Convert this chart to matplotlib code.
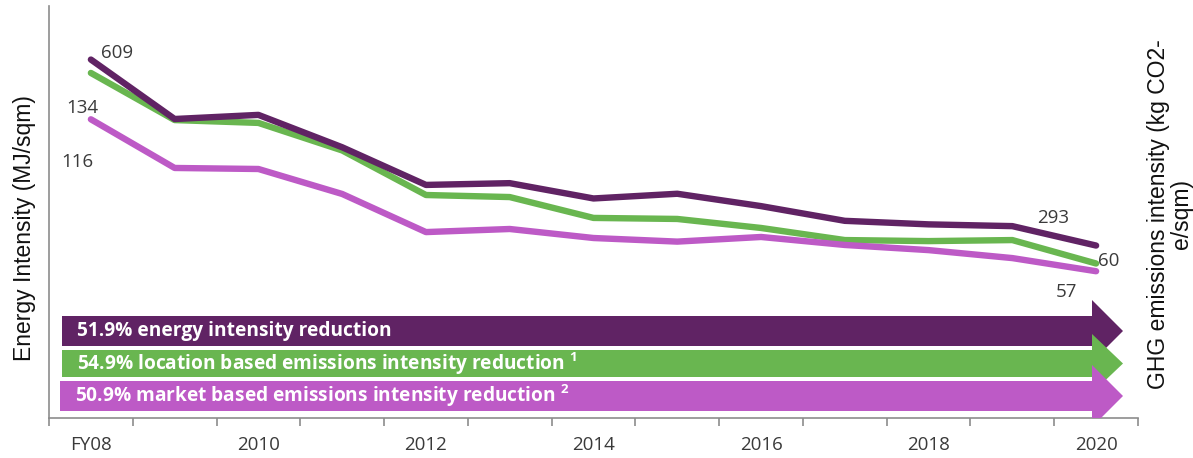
import matplotlib
matplotlib.use("Agg")
import matplotlib.pyplot as plt
from matplotlib.patches import FancyArrow

# ---- data ---------------------------------------------------------------
years = [2008, 2009, 2010, 2011, 2012, 2013, 2014, 2015, 2016, 2017, 2018, 2019, 2020]
year_labels = ["FY08", "2010", "2012", "2014", "2016", "2018", "2020"]
label_years = [2008, 2010, 2012, 2014, 2016, 2018, 2020]

energy_intensity = [609, 508, 515, 460, 396, 399, 373, 381, 360, 335, 329, 326, 293]
location_emissions = [134, 115.7, 114.6, 103.9, 86.6, 85.8, 77.7, 77.3, 73.8, 69.1, 68.7, 69.1, 60]
market_emissions = [116, 97.1, 96.7, 87.0, 72.2, 73.4, 69.9, 68.5, 70.3, 67.2, 65.2, 62.1, 57]

arrow_texts = [
    "51.9% energy intensity reduction",
    "54.9% location based emissions intensity reduction $^{\\mathbf{1}}$",
    "50.9% market based emissions intensity reduction $^{\\mathbf{2}}$",
]

# ---- style ----------------------------------------------------------------
PURPLE = "#602364"
GREEN = "#69B650"
PINK = "#BD5AC6"
GREY = "#8C8C8C"
TEXT = "#3A3A3A"
BODY_FONT = ["Open Sans", "DejaVu Sans"]
AXIS_FONT = ["Liberation Sans", "DejaVu Sans"]

plt.rcParams["font.family"] = BODY_FONT
plt.rcParams["mathtext.fontset"] = "custom"
plt.rcParams["mathtext.bf"] = "Open Sans:bold"

fig = plt.figure(figsize=(11.93, 4.58), dpi=100)
ax = fig.add_axes([49 / 1193, 40 / 458, 1089 / 1193, 412 / 458])
ax2 = ax.twinx()

# emissions lines go on the secondary axis, drawn beneath the energy line
line_kw = dict(lw=4.6, solid_capstyle="round", solid_joinstyle="round")
ax2.plot(years, location_emissions, color=GREEN, **line_kw)
ax2.plot(years, market_emissions, color=PINK, **line_kw)
ax.plot(years, energy_intensity, color=PURPLE, **line_kw)
ax.set_zorder(ax2.get_zorder() + 1)
ax.patch.set_visible(False)

ax.set_xlim(2007.5, 2020.5)
ax.set_ylim(0, 700)
ax2.set_ylim(0, 160)

# value labels
lab_kw = dict(fontsize=13.5, color=TEXT, textcoords="offset points",
              ha="center", va="center")
ax.annotate(f"{energy_intensity[0]}", (years[0], energy_intensity[0]),
            xytext=(19, 5), **lab_kw)
ax2.annotate(f"{location_emissions[0]}", (years[0], location_emissions[0]),
             xytext=(-6, -25), **lab_kw)
ax2.annotate(f"{market_emissions[0]}", (years[0], market_emissions[0]),
             xytext=(-10, -31), **lab_kw)
ax.annotate(f"{energy_intensity[-1]}", (years[-1], energy_intensity[-1]),
            xytext=(-31, 20), **lab_kw)
ax2.annotate(f"{location_emissions[-1]:.0f}", (years[-1], location_emissions[-1]),
             xytext=(9, 2), **lab_kw)
ax2.annotate(f"{market_emissions[-1]}", (years[-1], market_emissions[-1]),
             xytext=(-21, -15), **lab_kw)

# reduction arrows (axes-fraction geometry)
W, H = 1089.0, 412.0
arrow_rows = [  # (top px, bottom px) of each arrow body
    (316, 346),
    (350, 377),
    (381, 411),
]
arrow_colors = [PURPLE, GREEN, PINK]
x_starts = [62, 62, 60]
for (top, bot), col, txt, xs in zip(arrow_rows, arrow_colors, arrow_texts, x_starts):
    yc = (418 - (top + bot) / 2) / H
    width = (bot - top) / H
    x0 = (xs - 49) / W
    x1 = (1123 - 49) / W
    arr = FancyArrow(x0, yc, x1 - x0, 0, width=width, head_width=width + 32 / H,
                     head_length=31 / W, length_includes_head=True,
                     transform=ax.transAxes, color=col, lw=0, zorder=5)
    ax.add_patch(arr)
    ax.text(x0 + 15 / W, yc, txt, transform=ax.transAxes, color="white",
            fontsize=13.8, fontweight="bold", va="center", ha="left", zorder=6)

# axes styling
for s in ["top", "right"]:
    ax.spines[s].set_visible(False)
for s in ax2.spines.values():
    s.set_visible(False)
ax.spines["left"].set_color(GREY)
ax.spines["bottom"].set_color(GREY)
ax.spines["left"].set_linewidth(1.2)
ax.spines["bottom"].set_linewidth(1.2)
ax.set_yticks([])
ax2.set_yticks([])

ax.set_xticks(label_years)
ax.set_xticklabels(year_labels)
ax.set_xticks([y + 0.5 for y in years[:-1]] + [2007.5, 2020.5], minor=True)
ax.tick_params(axis="x", which="major", length=0, pad=13, labelsize=13.5,
               labelcolor=TEXT)
ax.tick_params(axis="x", which="minor", length=6, width=1.2, color=GREY)

fig.text(25 / 1193, 1 - 228 / 458, "Energy Intensity (MJ/sqm)", rotation=90,
         ha="center", va="center", fontsize=16.5, family=AXIS_FONT, color="#111111")
fig.text(1170 / 1193, 1 - 214 / 458, "GHG emissions intensity (kg CO2-\ne/sqm)",
         rotation=90, ha="center", va="center", fontsize=16.5, multialignment="center",
         linespacing=0.95, family=AXIS_FONT, color="#111111")

fig.savefig("out.png", dpi=100)
